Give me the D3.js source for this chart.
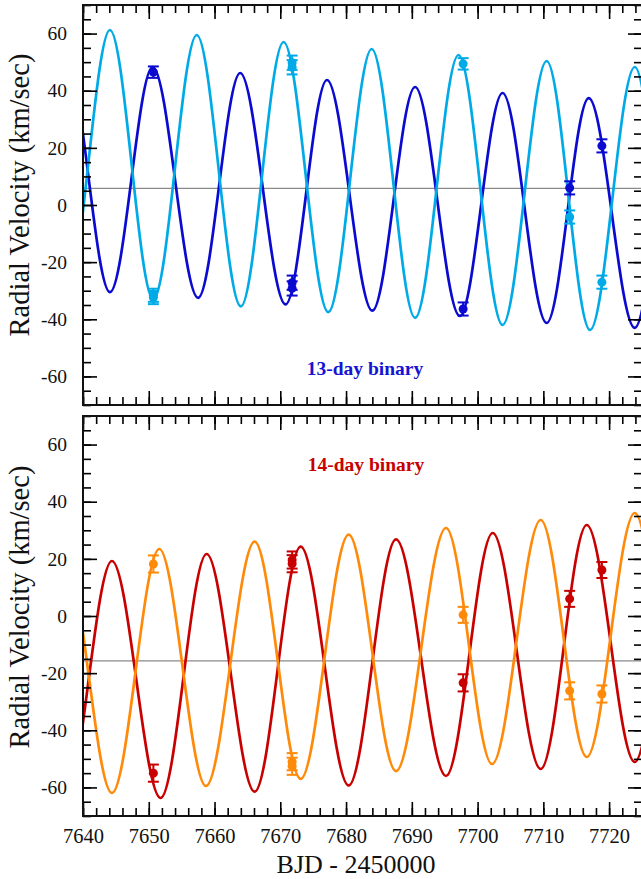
<!DOCTYPE html>
<html><head><meta charset="utf-8">
<script src="https://cdn.jsdelivr.net/npm/d3@7"></script>
<style>
html,body{margin:0;padding:0;background:#fff;}
svg{display:block;}
svg text{font-family:"Liberation Serif","Times New Roman",Times,serif;}
</style></head>
<body><svg id="c" width="641" height="879"></svg>
<script>
// ---------- data ----------
const xTicks = [7640,7650,7660,7670,7680,7690,7700,7710,7720];
const yTicks = [-60,-40,-20,0,20,40,60];
const xDomain = [7640,7725];
const yDomain = [-70,70];

// 13-day binary: curve extrema (time, velocity)
const lbCurveT = [7630.9,7637.65,7644.1,7650.7,7657.3,7664.0,7670.5,7677.3,7683.9,7690.5,7697.1,7703.8,7710.5,7717.1,7723.9,7730.5,7737.1];
const lbCurveV = [63.5,-29.5,61.25,-33.0,59.5,-35.5,57.05,-37.5,54.6,-39.5,52.5,-42.0,50.4,-43.75,48.3,-46,46];
const dbCurveT = [7630.7,7637.55,7644.1,7650.6,7657.5,7663.9,7670.8,7677.1,7684.0,7690.5,7697.3,7703.8,7710.5,7716.9,7723.9,7730.3,7737.0];
const dbCurveV = [-28.5,50.5,-30.5,48.3,-32.5,46.2,-34.8,43.75,-37.0,41.3,-38.85,39.2,-41.3,37.4,-43.0,35,-45];
const gamma13 = 5.8;

// 13-day observations
const dbObsT = [7650.7,7671.8,7671.8,7697.8,7714.0,7718.9];
const dbObsV = [46.5,-27.2,-29.2,-36.4,6.0,20.7];
const dbObsE = [2.0,2.5,2.5,2.3,2.3,2.3];
const lbObsT = [7650.7,7650.7,7671.8,7671.8,7697.8,7714.0,7718.9];
const lbObsV = [-31.6,-32.4,49.8,48.2,49.4,-4.2,-27.0];
const lbObsE = [2.3,2.3,2.5,2.5,2.0,2.3,2.3];

// 14-day binary: curve extrema
const rdCurveT = [7630.2,7637.2,7644.4,7651.8,7658.8,7666.1,7673.1,7680.4,7687.6,7695.2,7702.3,7709.6,7716.6,7723.9,7731.0,7738.0];
const rdCurveV = [17,-66,19.25,-63.7,21.7,-61.5,24.3,-59.3,26.8,-56.0,29.05,-53.55,31.85,-51.1,34,-48.6];
const orCurveT = [7630.2,7637.3,7644.4,7651.6,7658.7,7666.1,7673.1,7680.4,7687.6,7695.2,7702.2,7709.6,7716.6,7723.9,7731.0,7738.0];
const orCurveV = [-64.4,21,-61.95,23.45,-59.5,26.0,-57.0,28.5,-54.3,30.8,-51.8,33.6,-49.35,36.05,-47,38.5];
const gamma14 = -15.7;

// 14-day observations
const rdObsT = [7650.7,7671.8,7671.8,7697.8,7714.0,7718.9];
const rdObsV = [-55.0,19.6,18.3,-23.4,6.0,16.1];
const rdObsE = [3.0,3.0,3.0,3.0,2.8,2.8];
const orObsT = [7650.7,7671.8,7671.8,7697.8,7714.0,7718.9];
const orObsV = [18.2,-51.0,-52.6,0.4,-26.2,-27.3];
const orObsE = [3.0,3.0,3.0,2.8,3.0,3.0];

// ---------- drawing ----------
const FONT = "Liberation Serif, Times New Roman, Times, serif";
const svg = d3.select("#c");
const x = d3.scaleLinear().domain(xDomain).range([83,642]);
const xMinor = d3.range(7640,7726,2);
const yMinor = d3.range(-70,71,5);
const fmt = d => String(d);

const panels = [
  {y0:5, y1:405, gamma:gamma13, clip:"c1",
   curves:[{t:dbCurveT,v:dbCurveV,c:"#0a0ad0"},{t:lbCurveT,v:lbCurveV,c:"#00aae6"}],
   obs:[{t:dbObsT,v:dbObsV,e:dbObsE,c:"#0a0ad0"},{t:lbObsT,v:lbObsV,e:lbObsE,c:"#00aae6"}],
   label:"13-day binary", lc:"#1414d2", lx:365, ly:375, yl:195},
  {y0:416, y1:816, gamma:gamma14, clip:"c2",
   curves:[{t:rdCurveT,v:rdCurveV,c:"#c80000"},{t:orCurveT,v:orCurveV,c:"#ff8a0a"}],
   obs:[{t:rdObsT,v:rdObsV,e:rdObsE,c:"#c80000"},{t:orObsT,v:orObsV,e:orObsE,c:"#ff8a0a"}],
   label:"14-day binary", lc:"#c80000", lx:366, ly:471, yl:607}
];

const defs = svg.append("defs");

panels.forEach((p,i) => {
  const y = d3.scaleLinear().domain(yDomain).range([p.y1,p.y0]);
  defs.append("clipPath").attr("id",p.clip).append("rect")
    .attr("x",x.range()[0]).attr("y",p.y0).attr("width",x.range()[1]-x.range()[0]).attr("height",p.y1-p.y0);
  const g = svg.append("g");
  const plot = g.append("g").attr("clip-path",`url(#${p.clip})`);

  // systemic velocity line
  plot.append("line").attr("x1",x(xDomain[0])).attr("x2",x(xDomain[1]))
    .attr("y1",y(p.gamma)).attr("y2",y(p.gamma))
    .attr("stroke","#8a8a8a").attr("stroke-width",1.2);

  const line = d3.line().curve(d3.curveMonotoneX);
  p.curves.forEach(cv => {
    plot.append("path").attr("d", line(cv.t.map((t,k)=>[x(t),y(cv.v[k])])))
      .attr("fill","none").attr("stroke",cv.c).attr("stroke-width",2.7);
  });

  p.obs.forEach(o => {
    o.t.forEach((t,k) => {
      const cx = x(t), v = o.v[k], e = o.e[k];
      plot.append("line").attr("x1",cx).attr("x2",cx).attr("y1",y(v+e)).attr("y2",y(v-e))
        .attr("stroke",o.c).attr("stroke-width",2);
      [v+e,v-e].forEach(b => plot.append("line").attr("x1",cx-5.5).attr("x2",cx+5.5)
        .attr("y1",y(b)).attr("y2",y(b)).attr("stroke",o.c).attr("stroke-width",2));
      plot.append("circle").attr("cx",cx).attr("cy",y(v)).attr("r",4.5).attr("fill",o.c);
    });
  });

  // axes
  const styleAxis = sel => { sel.attr("font-family",FONT); sel.select(".domain").remove();
    sel.selectAll(".tick line").attr("stroke","#000").attr("stroke-width",1.6);
    sel.selectAll("text").attr("fill","#111").attr("font-family",FONT).style("font-family",FONT); };
  // left
  g.append("g").attr("transform",`translate(${x.range()[0]},0)`)
    .call(d3.axisLeft(y).tickValues(yMinor).tickSize(-8).tickFormat("")).call(styleAxis);
  g.append("g").attr("transform",`translate(${x.range()[0]},0)`)
    .call(d3.axisLeft(y).tickValues(yTicks).tickSize(-14).tickPadding(16).tickFormat(fmt))
    .call(styleAxis).selectAll("text").style("font-size","19.5px");
  // right
  g.append("g").attr("transform",`translate(${x.range()[1]},0)`)
    .call(d3.axisRight(y).tickValues(yMinor).tickSize(-8).tickFormat("")).call(styleAxis);
  g.append("g").attr("transform",`translate(${x.range()[1]},0)`)
    .call(d3.axisRight(y).tickValues(yTicks).tickSize(-14).tickFormat("")).call(styleAxis);
  // top
  g.append("g").attr("transform",`translate(0,${p.y0})`)
    .call(d3.axisTop(x).tickValues(xMinor).tickSize(-8).tickFormat("")).call(styleAxis);
  g.append("g").attr("transform",`translate(0,${p.y0})`)
    .call(d3.axisTop(x).tickValues(xTicks).tickSize(-14).tickFormat("")).call(styleAxis);
  // bottom
  g.append("g").attr("transform",`translate(0,${p.y1})`)
    .call(d3.axisBottom(x).tickValues(xMinor).tickSize(-8).tickFormat("")).call(styleAxis);
  const bx = g.append("g").attr("transform",`translate(0,${p.y1})`)
    .call(d3.axisBottom(x).tickValues(xTicks).tickSize(-14).tickPadding(12).tickFormat(i===1?fmt:""))
    .call(styleAxis);
  bx.selectAll("text").style("font-size","20.5px");

  // frame
  g.append("rect").attr("x",x.range()[0]).attr("y",p.y0)
    .attr("width",x.range()[1]-x.range()[0]).attr("height",p.y1-p.y0)
    .attr("fill","none").attr("stroke","#111").attr("stroke-width",2);

  // labels
  g.append("text").attr("x",p.lx).attr("y",p.ly).attr("text-anchor","middle")
    .attr("fill",p.lc).attr("font-family",FONT).style("font-size","19.5px").style("font-weight","bold").text(p.label);
  g.append("text").attr("transform",`translate(29,${p.yl}) rotate(-90)`)
    .attr("text-anchor","middle").attr("fill","#111").attr("font-family",FONT).style("font-size","28.5px")
    .text("Radial Velocity (km/sec)");
});

svg.append("text").attr("x",356).attr("y",873).attr("text-anchor","middle")
  .attr("fill","#111").attr("font-family",FONT).style("font-size","26px").text("BJD - 2450000");
</script>
</body></html>
